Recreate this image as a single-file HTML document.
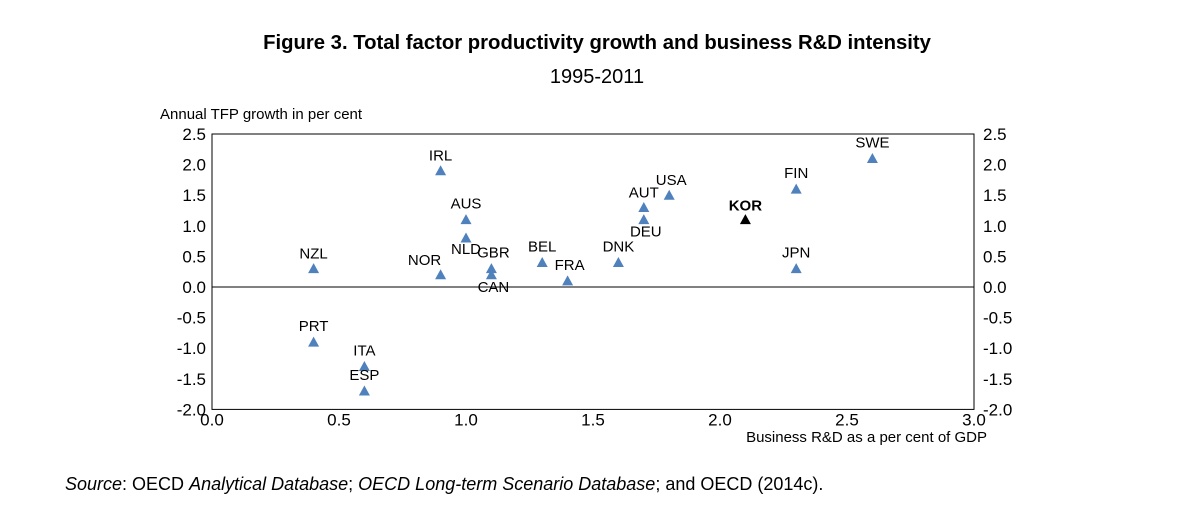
<!DOCTYPE html>
<html><head><meta charset="utf-8">
<style>
body{margin:0;width:1181px;height:514px;background:#fff;font-family:"Liberation Sans",sans-serif;overflow:hidden}
svg text{font-family:"Liberation Sans",sans-serif}
</style></head>
<body>
<svg id="chart" width="1181" height="514" viewBox="0 0 1181 514">
<text x="597" y="49" text-anchor="middle" font-size="20.3" font-weight="bold">Figure 3. Total factor productivity growth and business R&amp;D intensity</text>
<text x="597" y="83" text-anchor="middle" font-size="20">1995-2011</text>
<text x="160" y="119" font-size="15">Annual TFP growth in per cent</text>
<text x="987" y="442" text-anchor="end" font-size="15">Business R&amp;D as a per cent of GDP</text>
<text x="65" y="490" font-size="18"><tspan font-style="italic">Source</tspan>: OECD <tspan font-style="italic">Analytical Database</tspan>; <tspan font-style="italic">OECD Long-term Scenario Database</tspan>; and OECD (2014c).</text>
<g id="axes"></g>
<g id="marks"></g>
</svg>
<script>
const countries=["NZL","PRT","ITA","ESP","IRL","AUS","NLD","NOR","GBR","CAN","BEL","FRA","DNK","AUT","DEU","USA","KOR","FIN","JPN","SWE"];
const rdIntensity=[0.4,0.4,0.6,0.6,0.9,1.0,1.0,0.9,1.1,1.1,1.3,1.4,1.6,1.7,1.7,1.8,2.1,2.3,2.3,2.6];
const tfpGrowth=[0.3,-0.9,-1.3,-1.7,1.9,1.1,0.8,0.2,0.3,0.2,0.4,0.1,0.4,1.3,1.1,1.5,1.1,1.6,0.3,2.1];
const labelDx=[0,0,0,0,0,0,0,-16,2,2,0,2,0,0,2,2,0,0,0,0];
const labelDy=[-10,-11,-11,-11,-10,-11,16,-10,-11,17,-11,-11,-11,-10,17,-10,-9,-11,-11,-11];
const yTicks=[2.5,2.0,1.5,1.0,0.5,0.0,-0.5,-1.0,-1.5,-2.0];
const xTicks=[0.0,0.5,1.0,1.5,2.0,2.5,3.0];
const X0=212,XS=254,Y0=287,YS=61.2;
const sx=v=>X0+v*XS, sy=v=>Y0-v*YS;
const NS="http://www.w3.org/2000/svg";
const ax=document.getElementById('axes'), mk=document.getElementById('marks');
function el(t,a,p){const e=document.createElementNS(NS,t);for(const k in a)e.setAttribute(k,a[k]);p.appendChild(e);return e;}
const L=sx(0),R=sx(3),T=sy(2.5),B=sy(-2);
const frame=el('rect',{x:L,y:T,width:R-L,height:B-T,fill:'none',stroke:'#000','stroke-width':1},ax);


const zl=el('line',{x1:L,x2:R,y1:sy(0),y2:sy(0),stroke:'#000','stroke-width':1},ax);


yTicks.forEach(v=>{
  const t1=el('text',{x:L-6,y:sy(v)+6,'text-anchor':'end','font-size':17},ax);t1.textContent=v.toFixed(1);
  
  
  const t2=el('text',{x:R+9,y:sy(v)+6,'font-size':17},ax);t2.textContent=v.toFixed(1);
  
  
});
xTicks.forEach(v=>{
  const t=el('text',{x:sx(v),y:B+16,'text-anchor':'middle','font-size':17},ax);t.textContent=v.toFixed(1);
  
  
});
countries.forEach((c,i)=>{
  const x=sx(rdIntensity[i]),y=sy(tfpGrowth[i]);
  const kor=c==="KOR";
  const p=el('polygon',{points:`${x-5.5},${y+4.5} ${x+5.5},${y+4.5} ${x},${y-5.5}`,fill:kor?'#000':'#4f81bd'},mk);
  
  
  const t=el('text',{x:x+labelDx[i],y:y+labelDy[i],'text-anchor':'middle','font-size':15,'font-weight':kor?'bold':'normal'},mk);
  t.textContent=c;
  
  
});
</script>
</body></html>
